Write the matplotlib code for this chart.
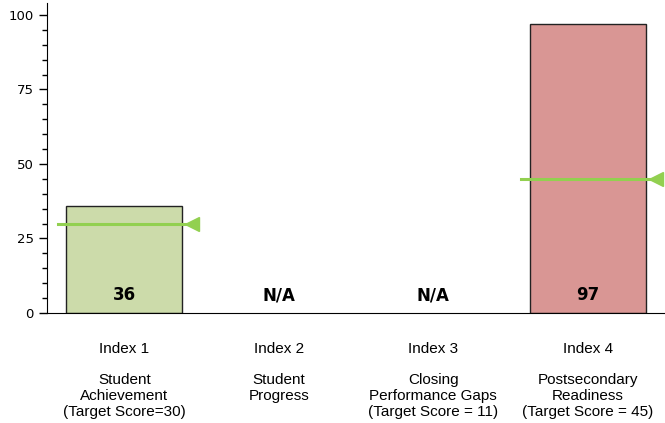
import numpy as np
import matplotlib.pyplot as plt

# data
indexes = ['Index 1', 'Index 2', 'Index 3', 'Index 4']
names = ['Student\nAchievement\n(Target Score=30)',
         'Student\nProgress',
         'Closing\nPerformance Gaps\n(Target Score = 11)',
         'Postsecondary\nReadiness\n(Target Score = 45)']
scores = [36, None, None, 97]
targets = [30, None, 11, 45]
bar_colors = ['#CCDBAA', '#CCDBAA', '#CCDBAA', '#D99694']

fig = plt.figure(figsize=(6.65, 4.23), dpi=100)
ax = fig.add_axes([47/665, 1-313/423, 1-47/665, 310/423])

x = np.arange(len(indexes))
for i in x:
    if scores[i] is not None:
        ax.bar(i, scores[i], width=0.75, color=bar_colors[i],
               edgecolor='#222222', linewidth=1, zorder=2)
        ax.text(i, 6, str(scores[i]), ha='center', va='center',
                fontsize=12, fontweight='bold', zorder=4)
        # target marker
        if targets[i] is not None:
            ax.plot([i-0.43, i+0.44], [targets[i], targets[i]],
                    color='#92D050', lw=2.2, zorder=3, clip_on=False)
            ax.plot(i+0.44, targets[i], marker='<', ms=10,
                    color='#92D050', zorder=3, clip_on=False)
    else:
        ax.text(i, 6, 'N/A', ha='center', va='center',
                fontsize=12, fontweight='bold', zorder=4)

ax.set_xlim(-0.5, 3.5)
ax.set_ylim(0, 104)
ax.set_yticks([0, 25, 50, 75, 100])
ax.set_yticks(np.arange(0, 101, 5), minor=True)
ax.tick_params(axis='y', which='major', length=6, width=1, labelsize=9.5, pad=3.5)
ax.tick_params(axis='y', which='minor', length=3.5, width=1)

ax.set_xticks(x)
ax.set_xticklabels([a + '\n\n' + b for a, b in zip(indexes, names)],
                   family=['Liberation Sans', 'DejaVu Sans'],
                   fontsize=11, va='top', linespacing=1.15)
ax.tick_params(axis='x', length=0, pad=21)

ax.spines['top'].set_visible(False)
ax.spines['right'].set_visible(False)

plt.savefig('out.png', dpi=100)
